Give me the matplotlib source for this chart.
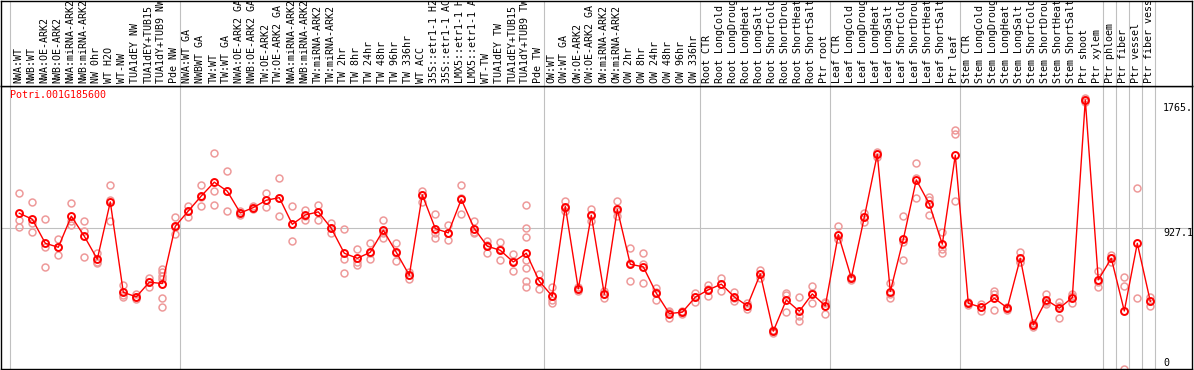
import matplotlib
matplotlib.use("Agg")
import matplotlib.pyplot as plt
import matplotlib.transforms as mtransforms
import numpy as np

title = "Potri.001G185600"

labels = [
    "NWA:WT", "NWB:WT", "NWA:OE-ARK2", "NWB:OE-ARK2", "NWA:miRNA-ARK2", "NWB:miRNA-ARK2",
    "NW 0hr", "WT H2O", "WT-NW", "TUA1dEY NW", "TUA1dEY+TUB15", "TUA1dY+TUB9 NW", "Pde NW",
    "NWA:WT GA", "NWBWT GA", "TW:WT", "TW:WT GA", "NWA:OE-ARK2 GA", "NWB:OE-ARK2 GA",
    "TW:OE-ARK2", "TW:OE-ARK2 GA", "NWA:miRNA-ARK2", "NWB:miRNA-ARK2", "TW:miRNA-ARK2",
    "TW:miRNA-ARK2", "TW 2hr", "TW 8hr", "TW 24hr", "TW 48hr", "TW 96hr", "TW 336hr",
    "WT ACC", "35S::etr1-1 H2", "35S::etr1-1 AC", "LMX5::etr1-1 H", "LMX5::etr1-1 A",
    "WT-TW", "TUA1dEY TW", "TUA1dEY+TUB15", "TUA1dY+TUB9 TW", "Pde TW",
    "OW:WT", "OW:WT GA", "OW:OE-ARK2", "OW:OE-ARK2 GA", "OW:miRNA-ARK2", "OW:miRNA-ARK2",
    "OW 2hr", "OW 8hr", "OW 24hr", "OW 48hr", "OW 96hr", "OW 336hr",
    "Root CTR", "Root LongCold", "Root LongDroug", "Root LongHeat", "Root LongSalt",
    "Root ShortCold", "Root ShortDrou", "Root ShortHeat", "Root ShortSalt", "Ptr root",
    "Leaf CTR", "Leaf LongCold", "Leaf LongDroug", "Leaf LongHeat", "Leaf LongSalt",
    "Leaf ShortCold", "Leaf ShortDrou", "Leaf ShortHeat", "Leaf ShortSalt", "Ptr leaf",
    "Stem CTR", "Stem LongCold", "Stem LongDroug", "Stem LongHeat", "Stem LongSalt",
    "Stem ShortCold", "Stem ShortDrou", "Stem ShortHeat", "Stem ShortSalt", "Ptr shoot",
    "Ptr xylem", "Ptr phloem", "Ptr fiber", "Ptr vessel", "Ptr fiber vess",
]

group_sizes = [13, 28, 12, 10, 10, 11, 1, 1, 1, 1]

means = [
    1025, 986, 829, 803, 1006, 875, 725, 1099, 509, 479, 575, 566, 940,
    1040, 1138, 1228, 1169, 1027, 1062, 1110, 1127, 953, 1014, 1034, 927, 764, 731, 770,
    914, 770, 620, 1145, 925, 897, 1116, 925, 810, 783, 707, 764, 581,
    483, 1069, 531, 1012, 496, 1051, 692, 675, 503, 370, 379, 477,
    525, 562, 479, 420, 629, 255, 459, 385, 498, 420,
    886, 603, 999, 1410, 514, 855, 1243, 1086, 823, 1404,
    437, 411, 470, 407, 731, 296, 459, 405, 474, 1765, 590,
    731, 387, 829, 450,
]

replicates = [
    [1156, 982, 938], [1099, 960, 903], [986, 803, 677], [855, 803, 755],
    [1090, 975, 947], [973, 912, 742], [768, 709, 699], [1208, 1112, 977],
    [555, 490, 481], [498, 481, 464], [599, 575, 546],
    [664, 642, 616, 594, 470, 411], [999, 938, 890],
    [1073, 1040, 1003], [1208, 1134, 1073], [1417, 1173, 1077], [1299, 1169, 1038],
    [1040, 1027, 1014], [1075, 1062, 1053], [1158, 1110, 1064], [1256, 1127, 1006],
    [1073, 953, 842], [1045, 1010, 982], [1082, 1034, 984], [964, 927, 894],
    [921, 725, 633], [792, 709, 688], [829, 764, 727], [982, 894, 866],
    [829, 764, 716], [644, 620, 594], [1173, 1145, 1101], [1019, 894, 862],
    [949, 897, 851], [1208, 1123, 1019], [975, 903, 897], [847, 818, 764],
    [838, 794, 718], [757, 714, 651], [1077, 927, 868, 720, 666, 583, 544],
    [629, 581, 529],
    [542, 459, 437], [1103, 1062, 1040], [544, 531, 518], [1053, 1006, 977],
    [518, 496, 474], [1103, 1043, 1008], [797, 699, 581], [764, 692, 568],
    [540, 511, 457], [387, 377, 344], [387, 379, 370], [503, 477, 448],
    [557, 529, 487], [599, 566, 520], [509, 474, 453], [437, 420, 403],
    [655, 629, 601], [263, 255, 242], [503, 492, 383], [477, 355, 324],
    [551, 503, 442], [448, 442, 370],
    [940, 860, 857], [612, 603, 586], [1025, 1001, 971], [1428, 1410, 1391],
    [572, 498, 470], [1008, 840, 718], [1352, 1254, 1123], [1134, 1110, 1014],
    [905, 794, 768], [1569, 1545, 1103],
    [448, 437, 427], [433, 411, 390], [520, 498, 392], [416, 407, 394],
    [775, 709, 709], [307, 296, 279], [498, 446, 433], [448, 422, 344],
    [498, 487, 437], [1780, 1765, 1750], [649, 579, 542],
    [751, 731, 709], [609, 548, 9], [1188, 470], [479, 453, 418],
]

ytick_values = [1765, 927.1, 0]
ytick_labels = ["1765.", "927.1", "0"]

# ---------------------------------------------------------------------------
W, H = 1194, 370
DPI = 100
FONT = "DejaVu Sans Mono"
FS = 7.2
RED = "#ff0000"
PINK = "#ee9a9a"
GRID = "#c0c0c0"

fig = plt.figure(figsize=(W / DPI, H / DPI), dpi=DPI)
fig.patch.set_facecolor("white")

x = np.arange(len(labels))
x0_px, step_px = 19.3, 13.0
ax_left_px, ax_right_px = 1, 1192
xlim = ((ax_left_px - x0_px) / step_px, (ax_right_px - x0_px) / step_px)

ax = fig.add_axes([ax_left_px / W, 1 / H, (ax_right_px - ax_left_px) / W, 283 / H])
hdr = fig.add_axes([ax_left_px / W, 284 / H, (ax_right_px - ax_left_px) / W, 85.5 / H])

for a in (ax, hdr):
    a.set_xlim(*xlim)
    a.set_xticks([])
    a.set_yticks([])
    for s in a.spines.values():
        s.set_color("black")
        s.set_linewidth(1.0)
ax.set_ylim(8, 1856)
hdr.set_ylim(0, 1)

# group separators
ends = np.cumsum(group_sizes) - 1
seps = [-0.7] + [e + 0.385 for e in ends]
for sx in seps:
    for a in (ax, hdr):
        a.axvline(sx, color=GRID, lw=0.8, zorder=1)

# horizontal grid at the middle tick
ax.axhline(ytick_values[1], color=GRID, lw=0.8, zorder=1)

# replicates
for i, reps in enumerate(replicates):
    ax.plot([x[i]] * len(reps), reps, linestyle="none", marker="o", ms=5.0,
            mfc="none", mec=PINK, mew=1.1, zorder=2, clip_on=True)

# mean line
ax.plot(x, means, color=RED, lw=1.0, marker="o", ms=5.0, mfc="none",
        mec=RED, mew=1.4, zorder=3)

# title
ax.text(9 / (ax_right_px - ax_left_px), 1 - 4 / 283, title, transform=ax.transAxes,
        ha="left", va="top", color=RED, fontsize=FS, family=FONT)

# y labels on right
ytrans = ax.get_yaxis_transform()
tx = (1163 - ax_left_px) / (ax_right_px - ax_left_px)
offsets = [(-3, "top"), (0, "top"), (2, "bottom")]
for v, lab, (dy, va) in zip(ytick_values, ytick_labels, offsets):
    tr = mtransforms.offset_copy(ytrans, fig=fig, x=0, y=dy, units="dots")
    ax.text(tx, v, lab, transform=tr, ha="left", va=va, fontsize=FS,
            family=FONT, color="black")

# header labels
htrans = mtransforms.blended_transform_factory(hdr.transData, hdr.transAxes)
htrans = mtransforms.offset_copy(htrans, fig=fig, x=-1, y=3, units="dots")
for i, lab in enumerate(labels):
    hdr.text(x[i], 0, lab, transform=htrans, rotation=90, ha="center", va="bottom",
             fontsize=FS, family=FONT, color="black", clip_on=True)

fig.savefig("out.png", dpi=DPI, facecolor="white")
